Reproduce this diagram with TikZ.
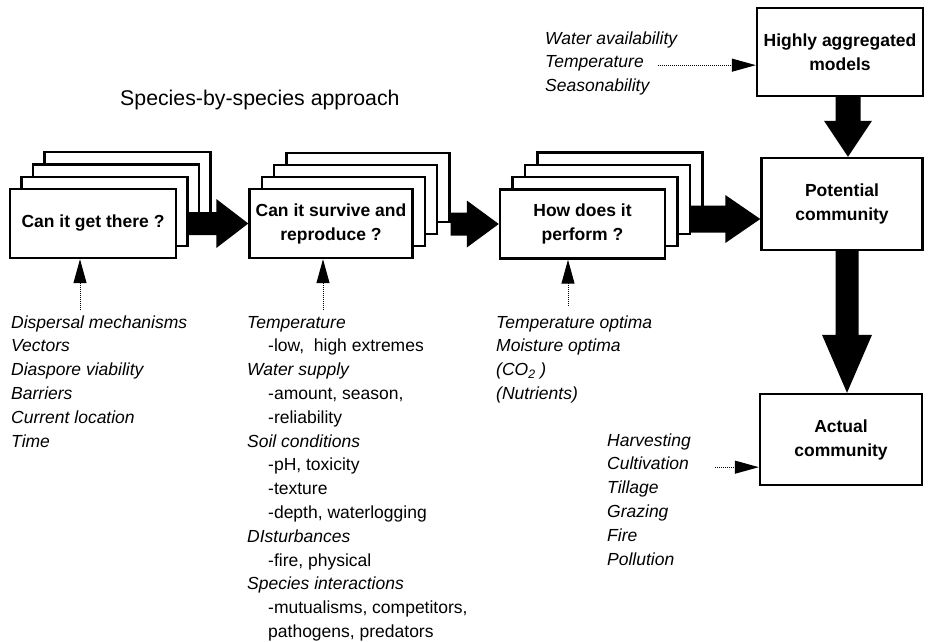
\documentclass[tikz,border=0pt]{standalone}
\usepackage{fontspec}
\setmainfont{Liberation Sans}
\usetikzlibrary{arrows.meta,calc}
\tikzset{
 layer/.style={draw, line width=2.4pt, fill=white, minimum height=69pt, inner sep=0pt, align=center, font=\fontsize{17.5}{24}\selectfont\bfseries},
 rbox/.style={draw, line width=2.4pt, fill=white, inner sep=0pt, align=center, font=\fontsize{17.5}{24}\selectfont\bfseries},
 lst/.style={anchor=base west, inner sep=0pt, font=\fontsize{17.5}{20}\selectfont},
 dotarrow/.style={densely dotted, line width=1pt, -{Triangle[length=24pt,width=13pt]}},
}
\newcommand\stackbox[7]{%
  \foreach \k/\nm in {3/a,2/b,1/c}{\node[layer, minimum width=#4] (#1\nm) at (#2+#5*\k, #3-#6*\k) {};}
  \node[layer, minimum width=#4] (#1f) at (#2,#3) {#7};}
\newcommand\rarrow[5]{\fill let \p1=(#1), \p2=(#2) in (\x1,\y2+#3) -- (\x2-#4,\y2+#3) -- (\x2-#4,\y2+#5) -- (\x2,\y2) -- (\x2-#4,\y2-#5) -- (\x2-#4,\y2-#3) -- (\x1,\y2-#3) -- cycle;}
\newcommand\darrow[5]{\fill let \p1=(#1), \p2=(#2) in (\x2-#3,\y1) -- (\x2-#3,\y2+#4) -- (\x2-#5,\y2+#4) -- (\x2,\y2) -- (\x2+#5,\y2+#4) -- (\x2+#3,\y2+#4) -- (\x2+#3,\y1) -- cycle;}
\begin{document}
\begin{tikzpicture}[x=1pt,y=-1pt]
\useasboundingbox (0,0) rectangle (936,641);

\node[anchor=west, inner sep=0pt, font=\fontsize{21.3}{25}\selectfont] (title) at (120,100) {Species-by-species approach};

\stackbox{s1}{93}{223.5}{166pt}{11.5}{12.3}{Can it get there ?}
\stackbox{s2}{331}{223.5}{163pt}{12.3}{12}{Can it survive and\\reproduce ?}
\stackbox{s3}{582.5}{224}{165pt}{12.5}{12.3}{How does it\\perform ?}

\node[rbox, minimum width=166pt, minimum height=88pt] (ha) at (840,52) {Highly aggregated\\models};
\node[rbox, minimum width=161pt, minimum height=92pt] (pc) at (842,204) {Potential\\community};
\node[rbox, minimum width=162pt, minimum height=91pt] (ac) at (841,439.5) {Actual\\community};

\rarrow{s1c.east}{s2f.west}{11.5pt}{32pt}{24.5pt}
\rarrow{s2a.east}{s3f.west}{11.5pt}{32pt}{23.5pt}
\rarrow{s3b.east}{[yshift=-15pt]pc.west}{13.5pt}{35pt}{24pt}
\darrow{ha.south}{[xshift=6pt]pc.north}{12.5pt}{36pt}{24pt}
\darrow{pc.south}{[xshift=6pt]ac.north}{11.5pt}{58pt}{25pt}

\foreach [count=\i from 0] \t in {Dispersal mechanisms,Vectors,Diaspore viability,Barriers,Current location,Time}
  \node[lst] (g\i) at (11,328+23.8*\i) {\itshape\t};

\foreach [count=\i from 0] \t/\x/\f in {Temperature/247/\itshape,{-low,\ \ high extremes}/268/\upshape,Water supply/247/\itshape,{-amount, season,}/268/\upshape,-reliability/268/\upshape,Soil conditions/247/\itshape,{-pH, toxicity}/268/\upshape,-texture/268/\upshape,{-depth, waterlogging}/268/\upshape,DIsturbances/247/\itshape,{-fire, physical}/268/\upshape,Species interactions/247/\itshape,{-mutualisms, competitors,}/268/\upshape,{pathogens, predators}/268/\upshape}
  \node[lst] (m\i) at (\x,328+23.8*\i) {\f\t};

\foreach [count=\i from 0] \t in {Temperature optima,Moisture optima,(CO\textsubscript{2} ),(Nutrients)}
  \node[lst] (p\i) at (496,328+23.8*\i) {\itshape\t};

\foreach [count=\i from 0] \t in {Harvesting,Cultivation,Tillage,Grazing,Fire,Pollution}
  \node[lst] (h\i) at (607,446+23.8*\i) {\itshape\t};

\foreach [count=\i from 0] \t in {Water availability,Temperature,Seasonability}
  \node[lst] (t\i) at (545,44+23.8*\i) {\itshape\t};

\draw[dotarrow] ([xshift=14pt]t1.mid east) -- (t1.mid east -| ha.west);
\draw[dotarrow] ([xshift=26pt]h1.mid east) -- (h1.mid east -| ac.west);

\coordinate (u1) at (80,310);
\coordinate (u2) at (323,310);
\coordinate (u3) at (568,306);
\draw[dotarrow] (u1) -- (u1 |- s1f.south);
\draw[dotarrow] (u2) -- (u2 |- s2f.south);
\draw[dotarrow] (u3) -- (u3 |- s3f.south);
\end{tikzpicture}
\end{document}
